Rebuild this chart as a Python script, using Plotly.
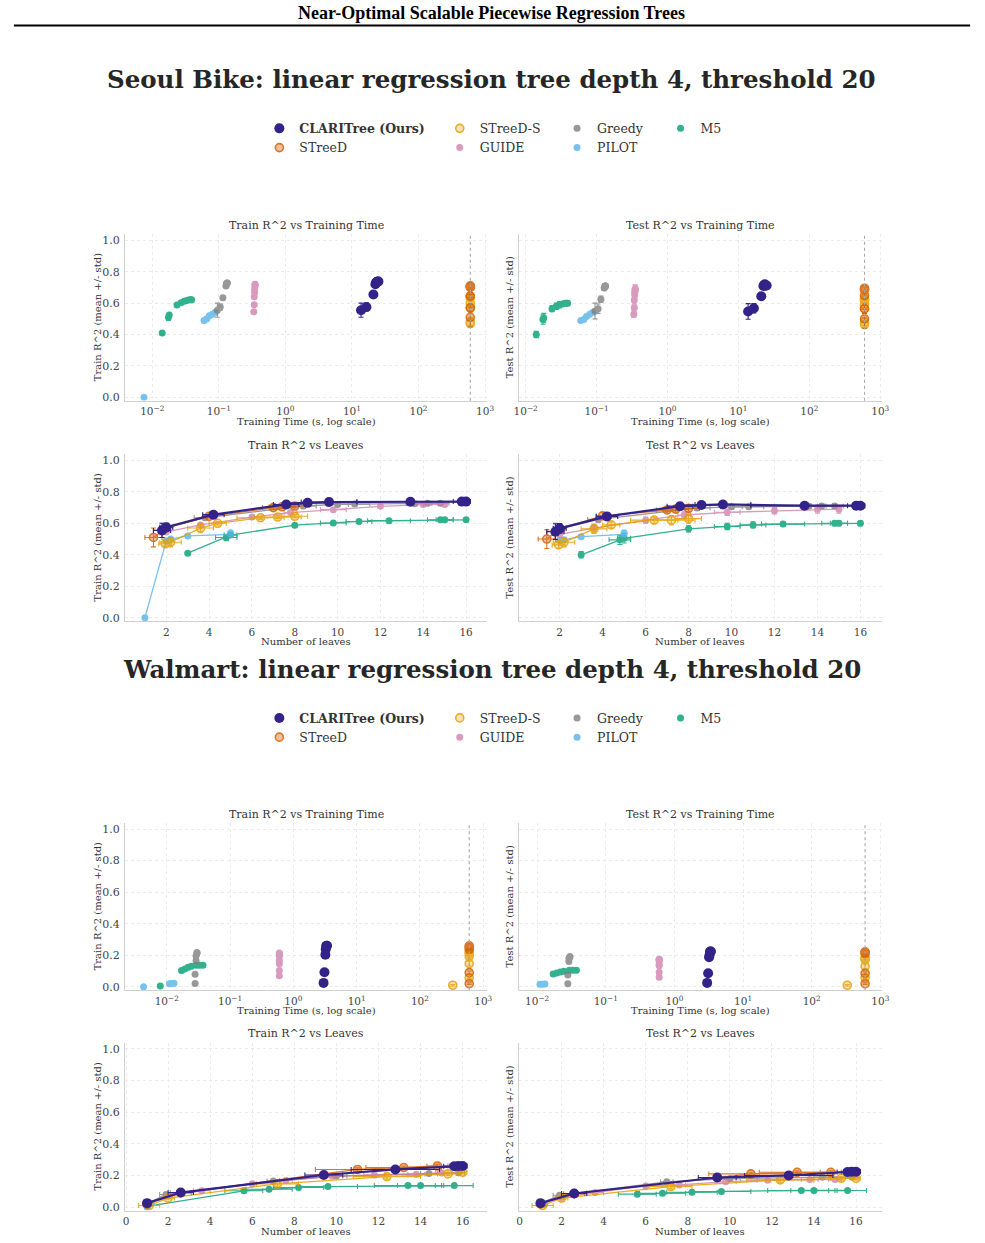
import plotly.graph_objects as go

W, H = 985, 1243
TIME_LIMIT = 600  # solver time limit in seconds (dotted line)

METHODS = ["CLARITree (Ours)", "STreeD", "STreeD-S", "GUIDE", "Greedy", "PILOT", "M5"]
KEYS = ["CLARI", "STREED", "STREEDS", "GUIDE", "GREEDY", "PILOT", "M5"]
COLORS = ["#332288", "#D55E00", "#E69F00", "#CC79A7", "#7F7F7F", "#56B4E9", "#009E73"]

# ===================== Seoul Bike =====================
SB_CLARI_TIME = [13.7, 16.5, 21.0, 22.5, 23.0, 23.5, 24.0, 24.5, 25.0]
SB_CLARI_LEAVES = [1.8, 2.0, 4.2, 7.6, 8.6, 9.6, 13.4, 15.8, 16.0]
SB_CLARI_LEAVES_SD = [0.4, 0.3, 0.5, 0.6, 0.9, 1.3, 2.5, 0.4, 0.2]
SB_CLARI_TRAIN = [0.555, 0.575, 0.655, 0.72, 0.73, 0.735, 0.737, 0.738, 0.738]
SB_CLARI_TRAIN_SD = [0.045, 0.025, 0.01, 0.01, 0.008, 0.008, 0.008, 0.008, 0.008]
SB_CLARI_TEST = [0.547, 0.568, 0.644, 0.709, 0.716, 0.72, 0.712, 0.712, 0.712]
SB_CLARI_TEST_SD = [0.05, 0.03, 0.02, 0.012, 0.012, 0.015, 0.02, 0.02, 0.02]

SB_STREED_TIME = [600, 600, 600, 600, 600, 600]
SB_STREED_LEAVES = [1.4, 2.0, 4.0, 7.0, 7.4, 8.0]
SB_STREED_LEAVES_SD = [0.4, 0.2, 0.3, 0.5, 0.6, 0.5]
SB_STREED_TRAIN = [0.51, 0.57, 0.645, 0.70, 0.705, 0.71]
SB_STREED_TRAIN_SD = [0.06, 0.02, 0.01, 0.01, 0.01, 0.01]
SB_STREED_TEST = [0.50, 0.565, 0.648, 0.685, 0.69, 0.695]
SB_STREED_TEST_SD = [0.06, 0.03, 0.02, 0.02, 0.02, 0.02]

SB_STREEDS_TIME = [600, 600, 600, 600, 600, 600, 600]
SB_STREEDS_LEAVES = [1.95, 2.2, 3.6, 4.4, 6.4, 7.2, 8.0]
SB_STREEDS_LEAVES_SD = [0.3, 0.5, 0.6, 0.4, 1.1, 1.1, 0.6]
SB_STREEDS_TRAIN = [0.47, 0.48, 0.57, 0.60, 0.635, 0.64, 0.645]
SB_STREEDS_TRAIN_SD = [0.015, 0.03, 0.03, 0.01, 0.01, 0.01, 0.01]
SB_STREEDS_TEST = [0.463, 0.48, 0.565, 0.59, 0.62, 0.62, 0.63]
SB_STREEDS_TEST_SD = [0.02, 0.03, 0.03, 0.02, 0.02, 0.03, 0.03]

SB_GUIDE_TIME = [0.335, 0.34, 0.34, 0.345, 0.345, 0.35, 0.35, 0.35]
SB_GUIDE_LEAVES = [2.0, 3.6, 6.0, 7.8, 9.8, 12.0, 14.0, 15.0]
SB_GUIDE_LEAVES_SD = [0.0, 0.0, 0.0, 0.3, 0.6, 0.0, 0.0, 0.0]
SB_GUIDE_TRAIN = [0.545, 0.59, 0.64, 0.668, 0.687, 0.708, 0.719, 0.72]
SB_GUIDE_TRAIN_SD = [0.005, 0.005, 0.005, 0.005, 0.005, 0.005, 0.005, 0.005]
SB_GUIDE_TEST = [0.53, 0.57, 0.62, 0.653, 0.67, 0.68, 0.69, 0.69]
SB_GUIDE_TEST_SD = [0.02, 0.02, 0.02, 0.02, 0.02, 0.02, 0.025, 0.025]

SB_GREEDY_TIME = [0.095, 0.105, 0.115, 0.128, 0.13, 0.13, 0.132, 0.133, 0.134]
SB_GREEDY_LEAVES = [1.8, 2.0, 3.8, 8.4, 10.0, 10.8, 13.6, 14.2, 14.8]
SB_GREEDY_LEAVES_SD = [0.4, 0.3, 0.5, 0.6, 0.5, 0.7, 0.4, 0.5, 0.4]
SB_GREEDY_TRAIN = [0.555, 0.575, 0.635, 0.71, 0.72, 0.722, 0.725, 0.728, 0.728]
SB_GREEDY_TRAIN_SD = [0.045, 0.02, 0.01, 0.01, 0.01, 0.01, 0.01, 0.01, 0.01]
SB_GREEDY_TEST = [0.55, 0.565, 0.625, 0.697, 0.705, 0.705, 0.709, 0.71, 0.71]
SB_GREEDY_TEST_SD = [0.05, 0.03, 0.02, 0.015, 0.015, 0.015, 0.015, 0.015, 0.015]

SB_PILOT_TIME = [0.0075, 0.060, 0.066, 0.072, 0.080, 0.088]
SB_PILOT_LEAVES = [1.0, 2.0, 2.2, 3.0, 5.0, 5.0]
SB_PILOT_LEAVES_SD = [0.0, 0.0, 0.0, 0.0, 0.0, 0.0]
SB_PILOT_TRAIN = [0.0, 0.49, 0.50, 0.52, 0.53, 0.54]
SB_PILOT_TRAIN_SD = [0.0, 0.01, 0.01, 0.01, 0.01, 0.01]
SB_PILOT_TEST = [None, 0.49, 0.495, 0.515, 0.53, 0.54]
SB_PILOT_TEST_SD = [0.0, 0.01, 0.01, 0.01, 0.01, 0.01]

SB_M5_TIME = [0.0141, 0.0175, 0.018, 0.0235, 0.027, 0.030, 0.033, 0.036, 0.038, 0.039]
SB_M5_LEAVES = [3.0, 4.8, 5.0, 8.0, 9.8, 11.0, 12.4, 14.8, 15.0, 16.0]
SB_M5_LEAVES_SD = [0.0, 0.5, 0.3, 0.0, 0.6, 0.6, 1.0, 0.6, 0.4, 0.0]
SB_M5_TRAIN = [0.41, 0.51, 0.525, 0.588, 0.602, 0.612, 0.617, 0.622, 0.622, 0.622]
SB_M5_TRAIN_SD = [0.005, 0.02, 0.01, 0.005, 0.005, 0.005, 0.005, 0.005, 0.005, 0.005]
SB_M5_TEST = [0.40, 0.495, 0.505, 0.565, 0.58, 0.59, 0.595, 0.60, 0.60, 0.60]
SB_M5_TEST_SD = [0.02, 0.03, 0.03, 0.02, 0.02, 0.02, 0.015, 0.015, 0.015, 0.015]

# ===================== Walmart =====================
WM_CLARI_TIME = [3.0, 3.1, 3.2, 3.25, 3.3, 3.35, 3.4]
WM_CLARI_LEAVES = [1.0, 2.6, 9.4, 12.8, 15.6, 15.8, 16.0]
WM_CLARI_LEAVES_SD = [0.1, 0.6, 0.9, 2.1, 0.5, 0.4, 0.2]
WM_CLARI_TRAIN = [0.025, 0.092, 0.203, 0.238, 0.258, 0.26, 0.26]
WM_CLARI_TRAIN_SD = [0.005, 0.01, 0.01, 0.01, 0.01, 0.01, 0.01]
WM_CLARI_TEST = [0.025, 0.086, 0.187, 0.20, 0.222, 0.224, 0.224]
WM_CLARI_TEST_SD = [0.005, 0.01, 0.01, 0.01, 0.01, 0.01, 0.01]

WM_STREED_TIME = [600, 600, 600, 600, 600]
WM_STREED_LEAVES = [1.0, 2.6, 11.0, 13.2, 14.8]
WM_STREED_LEAVES_SD = [0.2, 0.5, 2.0, 1.8, 0.5]
WM_STREED_TRAIN = [0.02, 0.09, 0.238, 0.25, 0.26]
WM_STREED_TRAIN_SD = [0.005, 0.01, 0.01, 0.01, 0.01]
WM_STREED_TEST = [0.02, 0.085, 0.21, 0.22, 0.22]
WM_STREED_TEST_SD = [0.005, 0.01, 0.01, 0.01, 0.01]

WM_STREEDS_TIME = [330, 600, 600, 600, 600, 600]
WM_STREEDS_LEAVES = [1.1, 2.0, 7.2, 12.4, 15.3, 16.0]
WM_STREEDS_LEAVES_SD = [0.5, 0.3, 1.0, 1.6, 0.5, 0.2]
WM_STREEDS_TRAIN = [0.01, 0.057, 0.147, 0.193, 0.21, 0.22]
WM_STREEDS_TRAIN_SD = [0.005, 0.005, 0.015, 0.015, 0.01, 0.01]
WM_STREEDS_TEST = [0.01, 0.057, 0.13, 0.172, 0.182, 0.182]
WM_STREEDS_TEST_SD = [0.005, 0.005, 0.015, 0.015, 0.01, 0.01]

WM_GUIDE_TIME = [0.6, 0.6, 0.6, 0.6, 0.6, 0.6, 0.6, 0.6]
WM_GUIDE_LEAVES = [2.0, 3.6, 6.0, 7.6, 9.8, 11.8, 13.8, 15.0]
WM_GUIDE_LEAVES_SD = [0.0, 0.4, 0.0, 0.3, 0.5, 0.5, 0.4, 0.3]
WM_GUIDE_TRAIN = [0.07, 0.103, 0.147, 0.168, 0.195, 0.203, 0.208, 0.215]
WM_GUIDE_TRAIN_SD = [0.005, 0.005, 0.005, 0.005, 0.005, 0.005, 0.005, 0.005]
WM_GUIDE_TEST = [0.06, 0.092, 0.134, 0.14, 0.161, 0.17, 0.174, 0.174]
WM_GUIDE_TEST_SD = [0.01, 0.01, 0.01, 0.01, 0.01, 0.01, 0.01, 0.01]

WM_GREEDY_TIME = [0.028, 0.028, 0.029, 0.029, 0.030, 0.030]
WM_GREEDY_LEAVES = [1.0, 1.9, 7.0, 10.0, 14.4, 15.8]
WM_GREEDY_LEAVES_SD = [0.0, 0.3, 0.3, 0.5, 0.4, 0.3]
WM_GREEDY_TRAIN = [0.021, 0.08, 0.165, 0.196, 0.212, 0.217]
WM_GREEDY_TRAIN_SD = [0.005, 0.005, 0.005, 0.005, 0.005, 0.005]
WM_GREEDY_TEST = [0.02, 0.075, 0.16, 0.18, 0.19, 0.19]
WM_GREEDY_TEST_SD = [0.005, 0.01, 0.01, 0.01, 0.01, 0.01]

WM_PILOT_TIME = [0.0043, 0.011, 0.012, 0.013]
WM_PILOT_LEAVES = [1.0, 1.0, 1.1, 1.2]
WM_PILOT_LEAVES_SD = [0.0, 0.0, 0.0, 0.0]
WM_PILOT_TRAIN = [0.0, 0.02, 0.021, 0.022]
WM_PILOT_TRAIN_SD = [0.0, 0.003, 0.003, 0.003]
WM_PILOT_TEST = [None, 0.017, 0.017, 0.018]
WM_PILOT_TEST_SD = [0.0, 0.003, 0.003, 0.003]

WM_M5_TIME = [0.0079, 0.0171, 0.0193, 0.0218, 0.0245, 0.0294, 0.0331, 0.0373]
WM_M5_LEAVES = [1.0, 5.6, 6.8, 8.2, 9.6, 13.4, 14.0, 15.6]
WM_M5_LEAVES_SD = [0.0, 0.9, 1.1, 1.2, 1.4, 1.6, 1.1, 0.9]
WM_M5_TRAIN = [0.005, 0.103, 0.113, 0.124, 0.13, 0.136, 0.136, 0.136]
WM_M5_TRAIN_SD = [0.0, 0.005, 0.005, 0.005, 0.005, 0.005, 0.005, 0.005]
WM_M5_TEST = [None, 0.082, 0.088, 0.094, 0.099, 0.105, 0.105, 0.105]
WM_M5_TEST_SD = [0.0, 0.008, 0.008, 0.008, 0.008, 0.008, 0.008, 0.008]

DATASETS = [
    ("SB", "Seoul Bike: linear regression tree depth 4, threshold 20"),
    ("WM", "Walmart: linear regression tree depth 4, threshold 20"),
]
Y_TICKS = [0.0, 0.2, 0.4, 0.6, 0.8, 1.0]
LOG_TICKS = [0.01, 0.1, 1, 10, 100, 1000]
LOG_TICK_TEXT = ["10<sup>\u22122</sup>", "10<sup>\u22121</sup>", "10<sup>0</sup>",
                 "10<sup>1</sup>", "10<sup>2</sup>", "10<sup>3</sup>"]

g = globals()


def get(prefix, key, field):
    return g[f"{prefix}_{key}_{field}"]


# ---------------- layout geometry (pixels) ----------------
FONT = "DejaVu Serif"
PANELS = {
    1: (120.7, 488.0, 235.0, 401.7), 2: (520.7, 888.3, 235.0, 401.7),
    3: (120.7, 488.0, 455.5, 622.7), 4: (520.7, 888.3, 455.5, 622.7),
    5: (120.7, 488.0, 825.0, 992.7), 6: (520.7, 888.3, 825.0, 992.7),
    7: (120.7, 488.0, 1045.5, 1213.5), 8: (520.7, 888.3, 1045.5, 1213.5),
}
XRANGES = {1: [-2.41, 3.03], 2: [-2.09, 3.02], 3: [0.07, 16.98], 4: [0.12, 16.99],
           5: [-2.66, 3.06], 6: [-2.26, 3.02], 7: [-0.05, 17.16], 8: [-0.01, 17.22]}
YRANGE = [-0.022, 1.038]


def py(p):
    return 1 - p / H


def px(p):
    return p / W


def rgba(hexcol, a):
    h = hexcol.lstrip("#")
    r, gg, b = int(h[0:2], 16), int(h[2:4], 16), int(h[4:6], 16)
    return f"rgba({r},{gg},{b},{a})"


fig = go.Figure()
layout = dict(width=W, height=H, margin=dict(l=0, r=0, t=0, b=0),
              plot_bgcolor="white", paper_bgcolor="white", showlegend=True)

for i, (x0, x1, y0, y1) in PANELS.items():
    sfx = "" if i == 1 else str(i)
    is_time = i in (1, 2, 5, 6)
    is_left = i in (1, 3, 5, 7)
    xa = dict(domain=[px(x0), px(x1)], anchor="y" + sfx, range=XRANGES[i],
              showline=True, linecolor="#d0d0d0", linewidth=1.2, mirror=False,
              showgrid=True, gridcolor="#ebebeb", griddash="dot", gridwidth=1,
              zeroline=False, ticks="", ticklen=0, ticklabelstandoff=1,
              tickfont=dict(family=FONT, size=10.5, color="#444"))
    if is_time:
        xa.update(type="log", tickvals=LOG_TICKS, ticktext=LOG_TICK_TEXT)
    else:
        xa.update(tickvals=[0, 2, 4, 6, 8, 10, 12, 14, 16])
    ya = dict(domain=[py(y1), py(y0)], anchor="x" + sfx, range=YRANGE,
              showline=True, linecolor="#d0d0d0", linewidth=1.2, mirror=False,
              showgrid=True, gridcolor="#ebebeb", griddash="dot", gridwidth=1,
              zeroline=False, ticks="", tickvals=Y_TICKS, tickformat=".1f",
              showticklabels=is_left, ticklabelstandoff=2,
              tickfont=dict(family=FONT, size=11, color="#444"))
    layout["xaxis" + sfx] = xa
    layout["yaxis" + sfx] = ya

# legends: 4 columns per dataset
LEG_COL_TEXT_X = [297, 480, 599, 704]
LEG_TOP = [114, 705]
COLUMN_OF = {"CLARI": 0, "STREED": 0, "STREEDS": 1, "GUIDE": 1,
             "GREEDY": 2, "PILOT": 2, "M5": 3}
RANK_OF = {"CLARI": 1, "STREED": 2, "STREEDS": 1, "GUIDE": 2,
           "GREEDY": 1, "PILOT": 2, "M5": 1}
for d in range(2):
    for c in range(4):
        n = d * 4 + c + 1
        name = "legend" if n == 1 else f"legend{n}"
        layout[name] = dict(x=px(LEG_COL_TEXT_X[c] - 40), y=py(LEG_TOP[d]),
                            xanchor="left", yanchor="top", orientation="v",
                            bgcolor="rgba(0,0,0,0)", borderwidth=0,
                            font=dict(family=FONT, size=12.5, color="#333"),
                            tracegroupgap=0)

STYLE = {
    "CLARI": dict(symbol="circle", size=10, opacity=1.0, lw=2.2, fill=1.0),
    "STREED": dict(symbol="circle", size=8, opacity=0.85, lw=1.3, fill=0.45),
    "STREEDS": dict(symbol="circle", size=8, opacity=0.85, lw=1.3, fill=0.35),
    "GUIDE": dict(symbol="circle", size=7, opacity=0.75, lw=1.3, fill=1.0),
    "GREEDY": dict(symbol="circle", size=7, opacity=0.8, lw=1.3, fill=1.0),
    "PILOT": dict(symbol="circle", size=7, opacity=0.8, lw=1.3, fill=1.0),
    "M5": dict(symbol="circle", size=7, opacity=0.8, lw=1.3, fill=1.0),
}

DRAW_ORDER = ["M5", "PILOT", "GREEDY", "GUIDE", "STREEDS", "STREED", "CLARI"]

for d, (prefix, title) in enumerate(DATASETS):
    base = d * 4
    for key in DRAW_ORDER:
        mi = KEYS.index(key)
        name = METHODS[mi]
        color = COLORS[mi]
        st = STYLE[key]
        label = f"<b>{name}</b>" if key == "CLARI" else name
        leg_n = d * 4 + COLUMN_OF[key] + 1
        leg = "legend" if leg_n == 1 else f"legend{leg_n}"
        time = get(prefix, key, "TIME")
        leaves = get(prefix, key, "LEAVES")
        leaves_sd = get(prefix, key, "LEAVES_SD")
        train = get(prefix, key, "TRAIN")
        train_sd = get(prefix, key, "TRAIN_SD")
        test = get(prefix, key, "TEST")
        test_sd = get(prefix, key, "TEST_SD")
        marker = dict(symbol=st["symbol"], size=st["size"],
                      color=rgba(color, st["fill"]),
                      line=dict(width=1.6 if st["fill"] < 1 else 0, color=color))

        def ebar(arr):
            return dict(type="data", array=arr, visible=True, color=color,
                        thickness=1.1, width=2.5)

        specs = [
            (base + 1, time, train, None, train_sd, "markers", True),
            (base + 2, time, test, None, test_sd, "markers", False),
            (base + 3, leaves, train, leaves_sd, train_sd, "lines+markers", False),
            (base + 4, leaves, test, leaves_sd, test_sd, "lines+markers", False),
        ]
        for pi, xs, ys, xsd, ysd, mode, show in specs:
            sfx = "" if pi == 1 else str(pi)
            tr = go.Scatter(
                x=xs, y=ys, mode=mode, name=label, marker=marker,
                line=dict(color=color, width=st["lw"]),
                opacity=st["opacity"], error_y=ebar(ysd),
                xaxis="x" + sfx, yaxis="y" + sfx,
                showlegend=show, legend=leg, legendrank=RANK_OF[key],
                connectgaps=False)
            if xsd is not None:
                tr.update(error_x=ebar(xsd))
            fig.add_trace(tr)

shapes = []
for pi in (1, 2, 5, 6):
    sfx = "" if pi == 1 else str(pi)
    shapes.append(dict(type="line", xref="x" + sfx, yref="y" + sfx + " domain",
                       x0=TIME_LIMIT, x1=TIME_LIMIT, y0=0, y1=1,
                       line=dict(color="#a8a8a8", width=1.1, dash="dot")))
shapes.append(dict(type="line", xref="paper", yref="paper", x0=px(8), x1=px(978),
                   y0=py(25.5), y1=py(25.5), line=dict(color="black", width=2)))
layout["shapes"] = shapes

ann = []


def text(x, y, s, size, color="#333", angle=0, family=FONT):
    ann.append(dict(x=px(x), y=py(y), xref="paper", yref="paper", text=s,
                    showarrow=False, xanchor="center", yanchor="middle",
                    textangle=angle, font=dict(family=family, size=size, color=color)))


text(492.5, 13, "<b>Near-Optimal Scalable Piecewise Regression Trees</b>", 18,
     color="black", family="Liberation Serif")
TITLE_Y = [80, 671]
for d, (prefix, title) in enumerate(DATASETS):
    text(492.5, TITLE_Y[d], f"<b>{title}</b>", 24.5, color="#262626")

PANEL_TITLES = {1: "Train R^2 vs Training Time", 2: "Test R^2 vs Training Time",
                3: "Train R^2 vs Leaves", 4: "Test R^2 vs Leaves"}
XTITLES = {1: "Training Time (s, log scale)", 2: "Training Time (s, log scale)",
           3: "Number of leaves", 4: "Number of leaves"}
YTITLES = {1: "Train R^2 (mean +/- std)", 2: "Test R^2 (mean +/- std)",
           3: "Train R^2 (mean +/- std)", 4: "Test R^2 (mean +/- std)"}
for pi, (x0, x1, y0, y1) in PANELS.items():
    k = (pi - 1) % 4 + 1
    cx = (x0 + x1) / 2
    text(cx, y0 - 9, PANEL_TITLES[k], 11)
    text(cx, y1 + 20.5, XTITLES[k], 10)
    ytx = 93 if k in (1, 3) else 511
    text(ytx, (y0 + y1) / 2, YTITLES[k], 10, angle=-90)
layout["annotations"] = ann

fig.update_layout(**layout)
fig.write_html("out.html")
